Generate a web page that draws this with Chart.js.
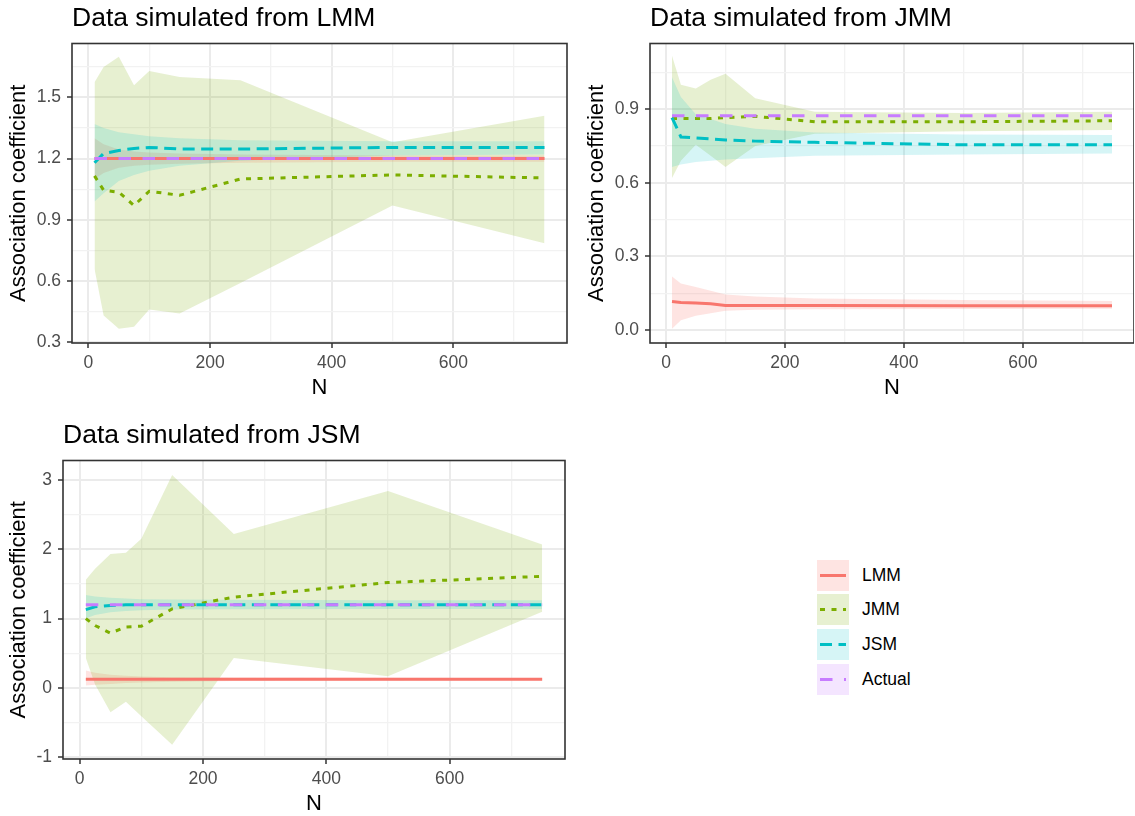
<!DOCTYPE html>
<html>
<head>
<meta charset="utf-8">
<title>Association coefficient by N</title>
<script src="https://cdn.jsdelivr.net/npm/chart.js@4.4.1/dist/chart.umd.min.js"></script>
<style>
  body { margin: 0; background: #fff; overflow: hidden; }
  #page { position: relative; width: 1135px; height: 816px; overflow: hidden; }
  #page canvas { position: absolute; }
  #legend { position: absolute; left: 817px; top: 558px; font-family: 'Liberation Sans', Arial, sans-serif; font-size: 17.5px; color: #000; }
  .row { display: flex; align-items: center; height: 34.6px; }
  .row svg { display: block; margin-right: 13px; }
</style>
</head>
<body>
<div id="page">
  <canvas id="simLMM" width="570" height="405" style="left:0;top:0"></canvas>
  <canvas id="simJMM" width="556" height="405" style="left:578px;top:0"></canvas>
  <canvas id="simJSM" width="570" height="404" style="left:0;top:417px"></canvas>
  <div id="legend"></div>
</div>
<script>
// sample sizes the models were fitted at
const nValues = [10, 25, 50, 75, 100, 150, 250, 500, 750];

// x axis (same on all panels)
const xMajor = [0, 200, 400, 600];
const xLabels = ['0', '200', '400', '600'];
const xMinor = [100, 300, 500, 700];

// ---- Data simulated from LMM ----
const simLMM_lmm    = [1.2, 1.2, 1.2, 1.2, 1.2, 1.2, 1.2, 1.2, 1.2];
const simLMM_lmmLo  = [1.10, 1.13, 1.155, 1.165, 1.17, 1.175, 1.18, 1.185, 1.185];
const simLMM_lmmHi  = [1.30, 1.27, 1.245, 1.235, 1.23, 1.225, 1.22, 1.215, 1.215];
const simLMM_jmm    = [1.115, 1.045, 1.035, 0.97, 1.04, 1.02, 1.10, 1.12, 1.105];
const simLMM_jmmLo  = [0.66, 0.43, 0.365, 0.375, 0.46, 0.44, 0.59, 0.97, 0.785];
const simLMM_jmmHi  = [1.575, 1.65, 1.70, 1.56, 1.63, 1.60, 1.585, 1.28, 1.41];
const simLMM_jsm    = [1.18, 1.225, 1.24, 1.25, 1.255, 1.247, 1.247, 1.255, 1.255];
const simLMM_jsmLo  = [0.99, 1.03, 1.09, 1.12, 1.14, 1.165, 1.19, 1.215, 1.22];
const simLMM_jsmHi  = [1.37, 1.35, 1.33, 1.32, 1.31, 1.30, 1.29, 1.285, 1.285];
const simLMM_actual = [1.2, 1.2, 1.2, 1.2, 1.2, 1.2, 1.2, 1.2, 1.2];
const simLMM_yMajor = [0.3, 0.6, 0.9, 1.2, 1.5];
const simLMM_yLabels = ['0.3', '0.6', '0.9', '1.2', '1.5'];
const simLMM_yMinor = [0.45, 0.75, 1.05, 1.35, 1.65];

// ---- Data simulated from JMM ----
const simJMM_lmm    = [0.116, 0.112, 0.11, 0.107, 0.1, 0.1, 0.1, 0.099, 0.099];
const simJMM_lmmLo  = [0.005, 0.04, 0.058, 0.068, 0.078, 0.083, 0.085, 0.086, 0.087];
const simJMM_lmmHi  = [0.218, 0.19, 0.175, 0.16, 0.145, 0.137, 0.128, 0.122, 0.118];
const simJMM_jmm    = [0.862, 0.862, 0.862, 0.862, 0.866, 0.871, 0.849, 0.849, 0.853];
const simJMM_jmmLo  = [0.62, 0.69, 0.755, 0.71, 0.665, 0.75, 0.80, 0.81, 0.815];
const simJMM_jmmHi  = [1.118, 1.0, 0.985, 1.02, 1.045, 0.945, 0.89, 0.885, 0.89];
const simJMM_jsm    = [0.866, 0.787, 0.783, 0.779, 0.775, 0.77, 0.765, 0.755, 0.755];
const simJMM_jsmLo  = [0.665, 0.675, 0.685, 0.69, 0.695, 0.70, 0.71, 0.715, 0.72];
const simJMM_jsmHi  = [1.03, 0.95, 0.88, 0.86, 0.84, 0.82, 0.805, 0.797, 0.795];
const simJMM_actual = [0.873, 0.873, 0.873, 0.873, 0.873, 0.873, 0.873, 0.873, 0.873];
const simJMM_yMajor = [0, 0.3, 0.6, 0.9];
const simJMM_yLabels = ['0.0', '0.3', '0.6', '0.9'];
const simJMM_yMinor = [0.15, 0.45, 0.75, 1.05];

// ---- Data simulated from JSM ----
const simJSM_lmm    = [0.125, 0.125, 0.125, 0.125, 0.125, 0.125, 0.125, 0.125, 0.125];
const simJSM_lmmLo  = [0.035, 0.045, 0.055, 0.07, 0.08, 0.09, 0.1, 0.105, 0.11];
const simJSM_lmmHi  = [0.25, 0.22, 0.19, 0.175, 0.165, 0.155, 0.15, 0.145, 0.14];
const simJSM_jmm    = [1.0, 0.9, 0.79, 0.88, 0.89, 1.14, 1.31, 1.52, 1.61];
const simJSM_jmmLo  = [0.43, 0.05, -0.35, -0.2, -0.41, -0.82, 0.43, 0.17, 1.10];
const simJSM_jmmHi  = [1.56, 1.72, 1.93, 1.95, 2.15, 3.07, 2.22, 2.84, 2.07];
const simJSM_jsm    = [1.13, 1.17, 1.19, 1.2, 1.2, 1.2, 1.2, 1.2, 1.2];
const simJSM_jsmLo  = [1.0, 1.05, 1.09, 1.11, 1.12, 1.13, 1.135, 1.14, 1.14];
const simJSM_jsmHi  = [1.34, 1.32, 1.30, 1.29, 1.28, 1.275, 1.27, 1.265, 1.265];
const simJSM_actual = [1.2, 1.2, 1.2, 1.2, 1.2, 1.2, 1.2, 1.2, 1.2];
const simJSM_yMajor = [-1, 0, 1, 2, 3];
const simJSM_yLabels = ['-1', '0', '1', '2', '3'];
const simJSM_yMinor = [-0.5, 0.5, 1.5, 2.5];

const legendNames = ['LMM', 'JMM', 'JSM', 'Actual'];
const colours = { LMM: '#F8766D', JMM: '#7CAE00', JSM: '#00BFC4', Actual: '#C77CFF' };
const fills = { LMM: 'rgba(248,118,109,0.2)', JMM: 'rgba(124,174,0,0.18)', JSM: 'rgba(0,191,196,0.16)', Actual: 'rgba(199,124,255,0.2)' };
const dashes = { LMM: [], JMM: [5, 6.5], JSM: [12, 6.5], Actual: [12.5, 11.5] };

Chart.defaults.font.family = "'Liberation Sans', Arial, sans-serif";
Chart.defaults.animation = false;

const toPts = arr => nValues.map((n, i) => ({ x: n, y: arr[i] }));
const near = (list, v) => list.findIndex(m => Math.abs(m - v) < 1e-9);

function gridFor(major) {
  return {
    color: c => near(major, c.tick.value) >= 0 ? '#EBEBEB' : '#F2F2F2',
    lineWidth: c => near(major, c.tick.value) >= 0 ? 2 : 1.3,
    tickColor: c => near(major, c.tick.value) >= 0 ? '#333333' : 'rgba(0,0,0,0)',
    tickWidth: 1.5,
    tickLength: 5
  };
}

// panel border, like theme_bw
const framePlugin = {
  id: 'frame',
  afterDatasetsDraw(chart) {
    const { ctx, chartArea: a } = chart;
    ctx.save();
    ctx.strokeStyle = '#333333';
    ctx.lineWidth = 1.6;
    ctx.strokeRect(a.left, a.top, a.right - a.left, a.bottom - a.top);
    ctx.restore();
  }
};

function createPanel(id, title, models, actual, yMin, yMax, yMajor, yLabels, yMinor, yWidth, padRight) {
  const datasets = [];
  models.forEach((m, k) => {
    datasets.push({ data: toPts(m.hi), borderWidth: 0, pointRadius: 0, fill: false, order: 20 - k });
    datasets.push({ data: toPts(m.lo), borderWidth: 0, pointRadius: 0, fill: '-1',
                    backgroundColor: fills[m.name], order: 20 - k });
  });
  models.forEach((m, k) => {
    datasets.push({ data: toPts(m.est), borderColor: colours[m.name], borderWidth: 3,
                    borderDash: dashes[m.name], pointRadius: 0, fill: false, order: 10 - k });
  });
  datasets.push({ data: toPts(actual), borderColor: colours.Actual, borderWidth: 3,
                  borderDash: dashes.Actual, pointRadius: 0, fill: false, order: 1 });

  new Chart(document.getElementById(id), {
    type: 'line',
    data: { datasets: datasets },
    options: {
      responsive: false,
      devicePixelRatio: 1,
      layout: { padding: { left: 0, right: padRight, top: 0, bottom: 0 } },
      plugins: {
        legend: { display: false },
        tooltip: { enabled: false },
        title: {
          display: true, text: title, align: 'start', fullSize: false, color: '#000',
          font: { size: 26.5, weight: 'normal' }, padding: { top: 2.6, bottom: 9.1 }
        }
      },
      scales: {
        x: {
          type: 'linear', min: -27, max: 787,
          afterBuildTicks: s => { s.ticks = [...xMajor, ...xMinor].sort((a, b) => a - b).map(v => ({ value: v })); },
          afterFit: s => { s.height = 62; },
          border: { display: false },
          grid: gridFor(xMajor),
          ticks: {
            autoSkip: false, maxRotation: 0, padding: 5, color: '#4D4D4D', font: { size: 17.5 },
            callback: v => { const i = near(xMajor, v); return i >= 0 ? xLabels[i] : ''; }
          },
          title: { display: true, text: 'N', color: '#000', font: { size: 22 }, padding: { top: 0, bottom: 4 } }
        },
        y: {
          type: 'linear', min: yMin, max: yMax,
          afterBuildTicks: s => { s.ticks = [...yMajor, ...yMinor].sort((a, b) => a - b).map(v => ({ value: v })); },
          afterFit: s => { s.width = yWidth; },
          border: { display: false },
          grid: gridFor(yMajor),
          ticks: {
            autoSkip: false, padding: 6, color: '#4D4D4D', font: { size: 17.5 },
            callback: v => { const i = near(yMajor, v); return i >= 0 ? yLabels[i] : ''; }
          },
          title: { display: true, text: 'Association coefficient', color: '#000', font: { size: 22 }, padding: { top: 6, bottom: 0 } }
        }
      }
    },
    plugins: [framePlugin]
  });
}

createPanel('simLMM', 'Data simulated from LMM', [
  { name: 'LMM', est: simLMM_lmm, lo: simLMM_lmmLo, hi: simLMM_lmmHi },
  { name: 'JMM', est: simLMM_jmm, lo: simLMM_jmmLo, hi: simLMM_jmmHi },
  { name: 'JSM', est: simLMM_jsm, lo: simLMM_jsmLo, hi: simLMM_jsmHi }
], simLMM_actual, 0.295, 1.765, simLMM_yMajor, simLMM_yLabels, simLMM_yMinor, 72, 3);

createPanel('simJMM', 'Data simulated from JMM', [
  { name: 'LMM', est: simJMM_lmm, lo: simJMM_lmmLo, hi: simJMM_lmmHi },
  { name: 'JMM', est: simJMM_jmm, lo: simJMM_jmmLo, hi: simJMM_jmmHi },
  { name: 'JSM', est: simJMM_jsm, lo: simJMM_jsmLo, hi: simJMM_jsmHi }
], simJMM_actual, -0.053, 1.168, simJMM_yMajor, simJMM_yLabels, simJMM_yMinor, 72, 0);

createPanel('simJSM', 'Data simulated from JSM', [
  { name: 'LMM', est: simJSM_lmm, lo: simJSM_lmmLo, hi: simJSM_lmmHi },
  { name: 'JMM', est: simJSM_jmm, lo: simJSM_jmmLo, hi: simJSM_jmmHi },
  { name: 'JSM', est: simJSM_jsm, lo: simJSM_jsmLo, hi: simJSM_jsmHi }
], simJSM_actual, -1.025, 3.28, simJSM_yMajor, simJSM_yLabels, simJSM_yMinor, 63, 5);

// legend keys: ribbon fill with the line drawn across
const legend = document.getElementById('legend');
legendNames.forEach(name => {
  const row = document.createElement('div');
  row.className = 'row';
  const dash = dashes[name].length ? dashes[name].join(' ') : 'none';
  row.innerHTML =
    '<svg width="32" height="31"><rect width="32" height="31" fill="' + fills[name] + '"/>' +
    '<line x1="3" y1="15.5" x2="29" y2="15.5" stroke="' + colours[name] + '" stroke-width="3" stroke-dasharray="' + dash + '"/></svg>' +
    '<span>' + name + '</span>';
  legend.appendChild(row);
});
</script>
</body>
</html>
